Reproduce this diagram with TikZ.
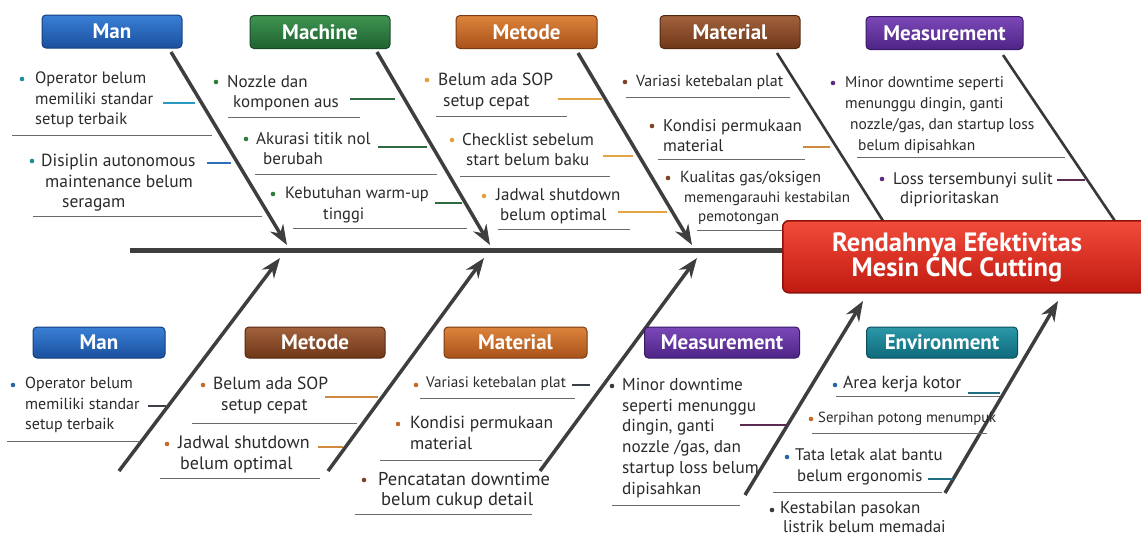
\documentclass[tikz,border=0pt]{standalone}
\usepackage{fontspec}
\setmainfont{PT Sans}
\usetikzlibrary{arrows.meta}

\definecolor{txtgray}{HTML}{2A2A2A}
\definecolor{bonegray}{HTML}{3E3E3E}
\definecolor{lineGray}{HTML}{6A6A6A}
\definecolor{manA}{HTML}{3A80D6}\definecolor{manB}{HTML}{1A4F9E}\definecolor{manD}{HTML}{143E7C}
\definecolor{macA}{HTML}{3F9452}\definecolor{macB}{HTML}{1E6230}\definecolor{macD}{HTML}{174A24}
\definecolor{metA}{HTML}{DC843C}\definecolor{metB}{HTML}{A9521A}\definecolor{metD}{HTML}{7A3A10}
\definecolor{matA}{HTML}{A2623C}\definecolor{matB}{HTML}{6F3718}\definecolor{matD}{HTML}{532810}
\definecolor{meaA}{HTML}{7C48B8}\definecolor{meaB}{HTML}{4D2486}\definecolor{meaD}{HTML}{391A66}
\definecolor{envA}{HTML}{2C98A8}\definecolor{envB}{HTML}{0E6A7A}\definecolor{envD}{HTML}{0A4F5E}
\definecolor{effA}{HTML}{F24C3C}\definecolor{effB}{HTML}{C0190F}\definecolor{effD}{HTML}{8E120A}
\definecolor{dotTeal}{HTML}{1E8C9A}
\definecolor{dotBlue}{HTML}{2A64A8}
\definecolor{dotGreen}{HTML}{2E7D3A}
\definecolor{dotGold}{HTML}{E2A040}
\definecolor{dotBrown}{HTML}{7E4222}
\definecolor{dotOrange}{HTML}{C46A2A}
\definecolor{dotPurple}{HTML}{5A2D82}
\definecolor{dotDark}{HTML}{3A3A3A}
\definecolor{conTeal}{HTML}{2A9AC0}
\definecolor{conBlue}{HTML}{2F6FB8}
\definecolor{conGreen}{HTML}{2E6B42}
\definecolor{conGold}{HTML}{E4A445}
\definecolor{conOrange}{HTML}{D0893E}
\definecolor{conPurple}{HTML}{5A2A52}
\definecolor{conDark}{HTML}{3A3F48}
\definecolor{conSea}{HTML}{1F6E86}

\begin{document}
\begin{tikzpicture}
[x=1pt,y=-1pt,
  catBox/.style={shape=rectangle,rounded corners=4pt,line width=1pt,text=white,
    font=\bfseries\fontsize{21}{24}\selectfont,minimum height=33pt,inner sep=0pt},
  manFill/.style={top color=manA,bottom color=manB,draw=manD},
  macFill/.style={top color=macA,bottom color=macB,draw=macD},
  metFill/.style={top color=metA,bottom color=metB,draw=metD},
  matFill/.style={top color=matA,bottom color=matB,draw=matD},
  meaFill/.style={top color=meaA,bottom color=meaB,draw=meaD},
  envFill/.style={top color=envA,bottom color=envB,draw=envD},
  cause/.style={anchor=north west,align=left,inner sep=0pt,text=txtgray,
    font=\fontsize{16}{20.5}\selectfont},
  fs/.style={font=\fontsize{#1}{20.5}\selectfont},
  boneArrow/.style={line width=3.5pt,draw=bonegray,-{Stealth[length=20pt,width=15pt]}},
  bonePlain/.style={line width=2.6pt,draw=bonegray!90!black},
  spineLine/.style={line width=5pt,draw=bonegray},
  underLine/.style={line width=0.8pt,draw=lineGray},
  conLine/.style={line width=2.4pt}]
\useasboundingbox (0,0) rectangle (1141,539);

%% bone end points
\foreach \n/\x/\y in {spineL/130/250, spineR/790/250,
  manTs/171/52, manTe/287/245, macTs/377/52, macTe/490/245,
  metTs/578/53, metTe/692/245, matTs/777/53, matTe/885/224,
  meaTs/1003/55, meaTe/1117/224,
  manBs/119/471, manBe/280/258, metBs/328/471, metBe/484/258,
  matBs/540/471, matBe/697/258, meaBs/745/495, meaBe/863/301,
  envBs/945/493, envBe/1058/301} {
  \coordinate (\n) at (\x,\y);
}

%% spine and bones
\draw[spineLine] (spineL) -- (spineR);
\foreach \a/\b in {manTs/manTe, macTs/macTe, metTs/metTe,
  manBs/manBe, metBs/metBe, matBs/matBe, meaBs/meaBe, envBs/envBe} {
  \draw[boneArrow] (\a) -- (\b);
}
\foreach \a/\b in {matTs/matTe, meaTs/meaTe} {
  \draw[bonePlain] (\a) -- (\b);
}

%% underlines
\foreach \xa/\xb/\y in {12/212/135, 33/262/216, 228/360/117, 255/437/174,
  293/467/228, 436/567/116, 460/610/176, 498/630/229, 626/790/97,
  658/805/159, 697/790/230, 857/1065/157,
  7/140/441, 192/357/423, 160/320/478, 420/575/398, 380/542/460,
  355/532/514, 612/740/505, 836/1000/396, 812/987/433, 773/942/492} {
  \draw[underLine] (\xa,\y) -- (\xb,\y);
}

%% short connectors to the bones
\foreach \xa/\xb/\y/\c in {163/195/103/conTeal, 207/231/163/conBlue,
  350/395/99/conGreen, 378/427/147/conGreen, 435/462/203/conGreen,
  558/602/99/conGold, 603/633/156/conGold, 618/667/212/conGold,
  803/830/147/conOrange, 1057/1085/180/conPurple,
  148/166/406/conDark, 325/378/397/conOrange, 318/343/447/conOrange,
  572/590/385/conDark, 740/787/425/conPurple, 968/1000/393/conSea,
  928/953/479/conSea} {
  \draw[conLine,draw=\c] (\xa,\y) -- (\xb,\y);
}

%% effect
\node[shape=rectangle,rounded corners=6pt,top color=effA,bottom color=effB,
  draw=effD,line width=1.5pt,minimum width=368pt,minimum height=72pt,
  anchor=north west] (effect) at (782,220) {};
\node[text=white,align=center,font=\bfseries\fontsize{26.5}{25}\selectfont]
  (effText) at (957,257) {Rendahnya Efektivitas\\Mesin CNC Cutting};

%% categories
\node[catBox,manFill,minimum width=140pt] (manT) at (112,31.5) {Man};
\node[catBox,macFill,minimum width=140pt] (macT) at (320,32) {Machine};
\node[catBox,metFill,minimum width=141pt] (metT) at (526.5,32) {Metode};
\node[catBox,matFill,minimum width=140pt] (matT) at (730,32) {Material};
\node[catBox,meaFill,minimum width=157pt] (meaT) at (944.5,33) {Measurement};
\node[catBox,manFill,minimum width=132pt,minimum height=31pt] (manB) at (99,342.5) {Man};
\node[catBox,matFill,minimum width=140pt,minimum height=31pt] (metB) at (315,342.5) {Metode};
\node[catBox,metFill,minimum width=143pt,minimum height=31pt] (matB) at (515.5,342.5) {Material};
\node[catBox,meaFill,minimum width=155pt,minimum height=31pt] (meaB) at (722,342.5) {Measurement};
\node[catBox,envFill,minimum width=151pt,minimum height=31pt] (envB) at (942,342.5) {Environment};

%% bullets
\foreach \x/\y/\c in {22/79/dotTeal, 32/161/dotTeal, 216/82/dotGreen,
  246/139/dotGreen, 273/194/dotGreen, 427/80/dotGold, 452/140/dotGold,
  484/196/dotGold, 625/82/dotBrown, 652/126/dotBrown, 668/178/dotBrown,
  833/83/dotPurple, 882/179/dotPurple,
  13/385/dotBlue, 203/385/dotOrange, 167/444/dotOrange, 416/385/dotOrange,
  398/424/dotOrange, 364/480/dotBrown, 612/386/dotDark, 835/385/dotBlue,
  811/419/dotOrange, 787/457/dotBlue, 772/510/dotDark} {
  \fill[\c] (\x,\y) circle (2.3pt);
}

%% causes, top
\node[cause,fs=16.5] (tMan1) at (35,72) {Operator belum\\memiliki standar\\setup terbaik};
\node[cause,fs=17.5] (tMan2) at (41,154) {Disiplin autonomous\\\hspace*{4pt}maintenance belum\\\hspace*{21pt}seragam};
\node[cause,fs=17] (tMac1) at (227,75) {Nozzle dan\\\hspace*{6pt}komponen aus};
\node[cause,fs=17] (tMac2) at (256,132) {Akurasi titik nol\\\hspace*{7pt}berubah};
\node[cause,fs=16.5] (tMac3) at (285,187) {Kebutuhan warm-up\\\hspace*{38pt}tinggi};
\node[cause,fs=17.5] (tMet1) at (438,73) {Belum ada SOP\\\hspace*{5pt}setup cepat};
\node[cause,fs=17] (tMet2) at (462,133) {Checklist sebelum\\\hspace*{4pt}start belum baku};
\node[cause,fs=17] (tMet3) at (496,188) {Jadwal shutdown\\\hspace*{4pt}belum optimal};
\node[cause] (tMat1) at (636,75) {Variasi ketebalan plat};
\node[cause,fs=17] (tMat2) at (663,119) {Kondisi permukaan\\material};
\node[cause,font=\fontsize{16}{19.5}\selectfont] (tMat3) at (680,171)
  {Kualitas gas/oksigen\\{\fontsize{15}{17}\selectfont\hspace*{4pt}memengarauhi kestabilan}\\{\fontsize{15}{17}\selectfont\hspace*{18pt}pemotongan}};
\node[cause,font=\fontsize{15.5}{21}\selectfont] (tMea1) at (845,76)
  {Minor downtime seperti\\menunggu dingin, ganti\\\hspace*{5pt}nozzle/gas, dan startup loss\\\hspace*{13pt}belum dipisahkan};
\node[cause,font=\fontsize{16.8}{19.5}\selectfont] (tMea2) at (893,172) {Loss tersembunyi sulit\\\hspace*{7pt}diprioritaskan};

%% causes, bottom
\node[cause] (bMan1) at (25,377) {Operator belum\\memiliki standar\\setup terbaik};
\node[cause,fs=17.5] (bMet1) at (213,377) {Belum ada SOP\\\hspace*{8pt}setup cepat};
\node[cause,fs=18] (bMet2) at (178,436) {Jadwal shutdown\\\hspace*{2pt}belum optimal};
\node[cause,font=\fontsize{15.2}{19}\selectfont] (bMat1) at (426,377) {Variasi ketebalan plat};
\node[cause,fs=17.5] (bMat2) at (410,416) {Kondisi permukaan\\material};
\node[cause,fs=18.5] (bMat3) at (378,472) {Pencatatan downtime\\\hspace*{3pt}belum cukup detail};
\node[cause,font=\fontsize{17.2}{20.8}\selectfont] (bMea1) at (622,378)
  {Minor downtime\\seperti menunggu\\dingin, ganti\\nozzle /gas, dan\\startup loss belum\\dipisahkan};
\node[cause,fs=17.5] (bEnv1) at (843,376) {Area kerja kotor};
\node[cause,font=\fontsize{14.7}{17}\selectfont] (bEnv2) at (818,412) {Serpihan potong menumpuk};
\node[cause,fs=16.8] (bEnv3) at (795,449) {Tata letak alat bantu\\\hspace*{2pt}belum ergonomis};
\node[cause,font=\fontsize{17}{19.5}\selectfont] (bEnv4) at (780,501) {Kestabilan pasokan\\\hspace*{3pt}listrik belum memadai};
\end{tikzpicture}
\end{document}
